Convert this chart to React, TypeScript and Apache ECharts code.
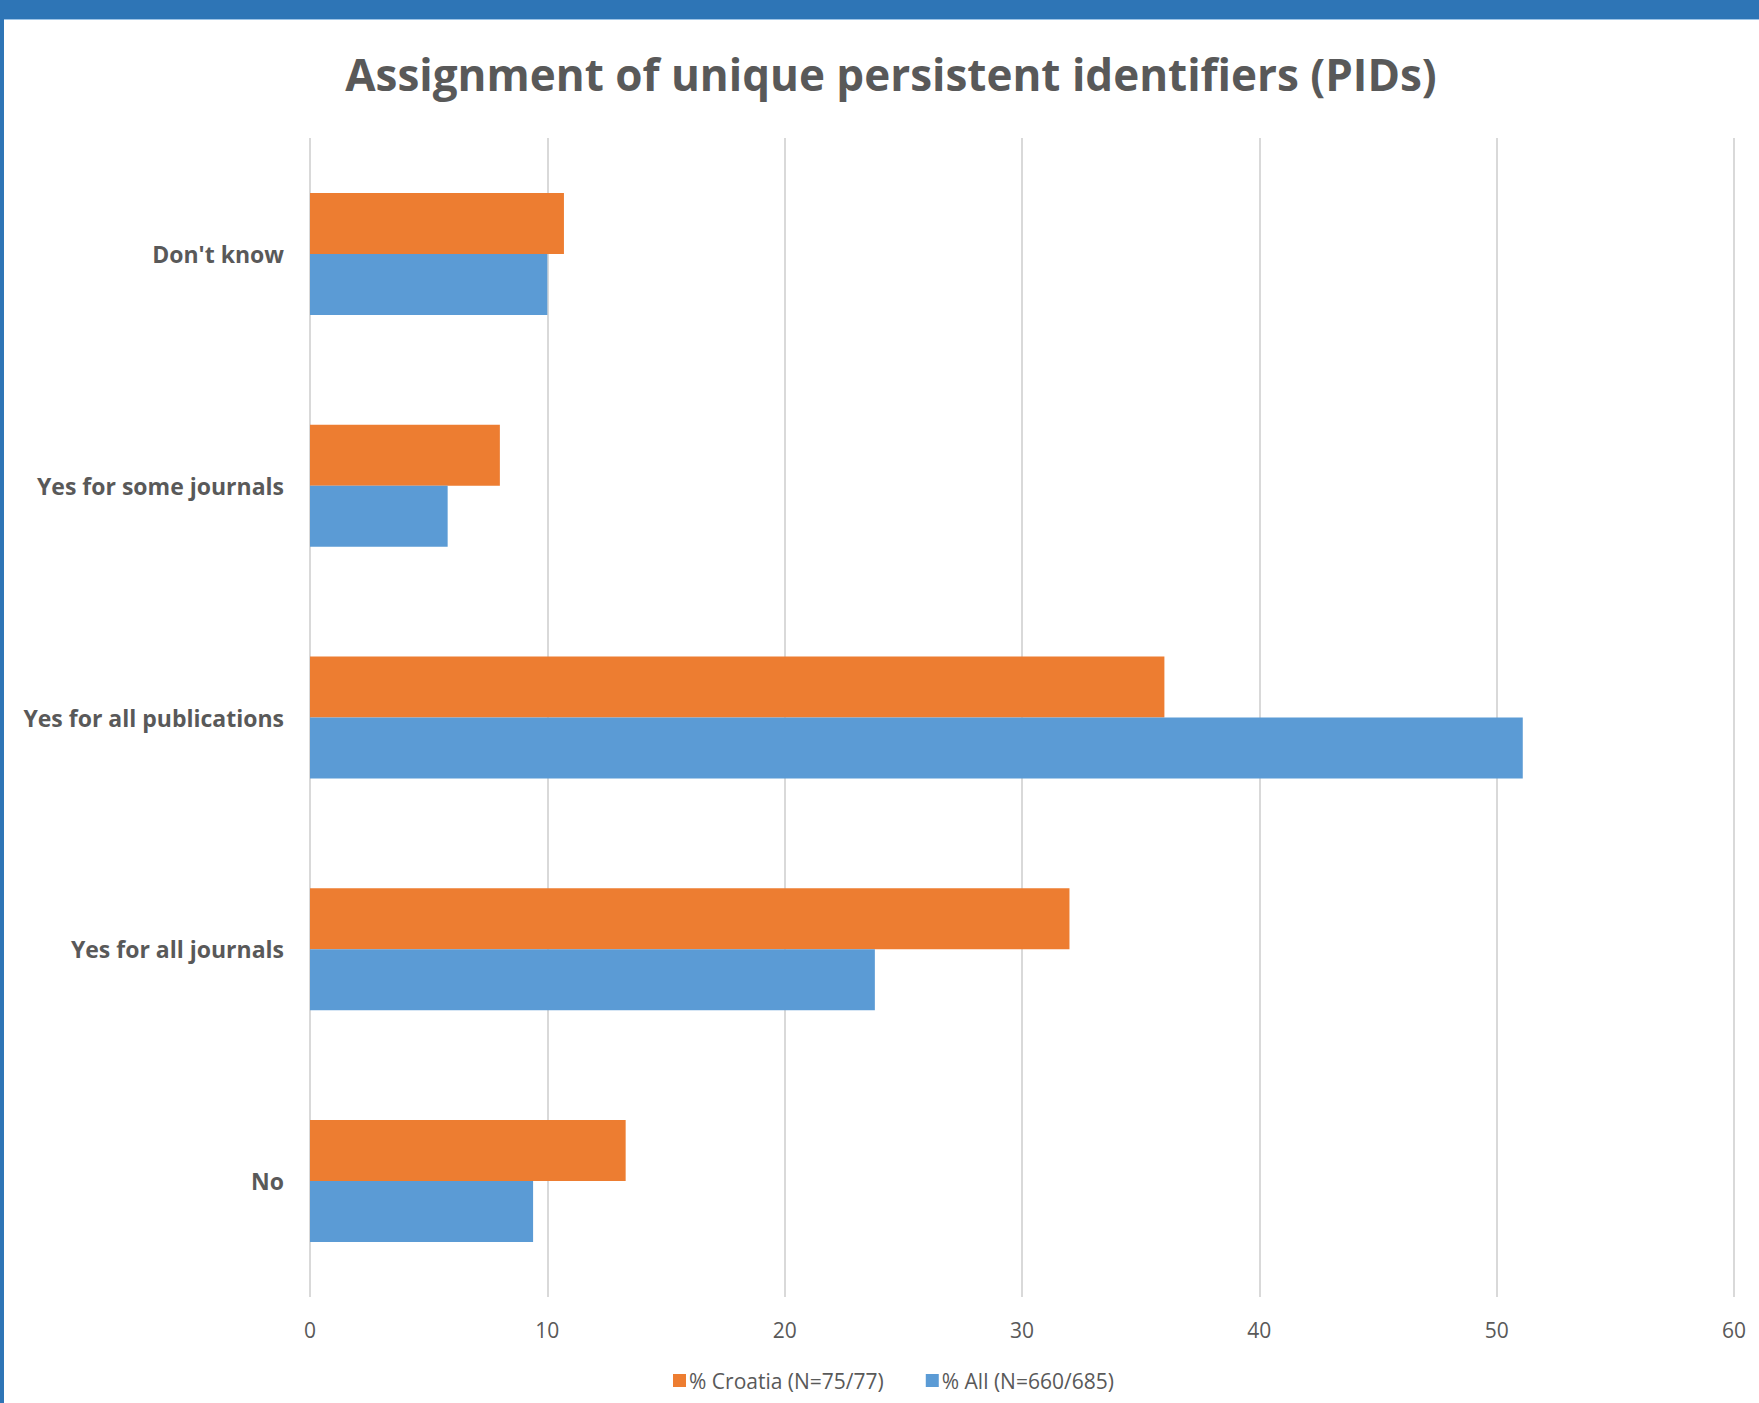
import React, { useEffect, useRef } from "react";
import * as echarts from "echarts";

const categories = ["No", "Yes for all journals", "Yes for all publications", "Yes for some journals", "Don't know"];
const croatiaValues = [13.3, 32.0, 36.0, 8.0, 10.7];
const allValues = [9.4, 23.8, 51.1, 5.8, 10.0];
const seriesNames = ["% Croatia (N=75/77)", "% All (N=660/685)"];
const xTicks = [0, 10, 20, 30, 40, 50, 60];

export default function App() {
  const ref = useRef<HTMLDivElement>(null);
  useEffect(() => {
    document.body.style.margin = "0";
    const chart = echarts.init(ref.current!, undefined, { renderer: "svg" });
    chart.setOption({
      animation: false,
      backgroundColor: "#ffffff",
      textStyle: { fontFamily: "Open Sans" },
      title: {
        text: "Assignment of unique persistent identifiers (PIDs)",
        left: 886,
        textAlign: "center",
        top: 47,
        textStyle: { fontFamily: "Open Sans", fontWeight: "bold", fontSize: 44, color: "#595959" },
      },
      graphic: [
        { type: "rect", shape: { x: 0, y: 0, width: 1759, height: 19 }, style: { fill: "#2E75B6" }, z: 100 },
        { type: "rect", shape: { x: 0, y: 19, width: 1759, height: 1 }, style: { fill: "#9DC3E6" }, z: 100 },
        { type: "rect", shape: { x: 0, y: 0, width: 4, height: 1403 }, style: { fill: "#2E75B6" }, z: 101 },
      ],
      legend: {
        data: seriesNames,
        bottom: 7,
        left: 668,
        itemWidth: 13,
        itemHeight: 13,
        itemGap: 42,
        icon: "rect",
        textStyle: { fontFamily: "Open Sans", fontSize: 21, color: "#595959", padding: [0, 0, 0, -2] },
      },
      grid: { left: 310, right: 25, top: 138, bottom: 106, containLabel: false },
      xAxis: {
        type: "value",
        min: xTicks[0],
        max: xTicks[xTicks.length - 1],
        interval: 10,
        axisLine: { show: false },
        axisTick: { show: false },
        splitLine: { show: true, lineStyle: { color: "#D9D9D9", width: 2 } },
        axisLabel: { fontFamily: "Open Sans", fontSize: 21, color: "#595959", margin: 22 },
      },
      yAxis: {
        type: "category",
        data: categories,
        axisLine: { show: false },
        axisTick: { show: false },
        axisLabel: { fontFamily: "Open Sans", fontWeight: "bold", fontSize: 23, color: "#595959", margin: 26 },
      },
      series: [
        {
          name: seriesNames[0],
          type: "bar",
          data: croatiaValues,
          barWidth: 61,
          barGap: "0%",
          itemStyle: { color: "#ED7D31" },
        },
        {
          name: seriesNames[1],
          type: "bar",
          data: allValues,
          barWidth: 61,
          barGap: "0%",
          itemStyle: { color: "#5B9BD5" },
        },
      ],
    });
    return () => chart.dispose();
  }, []);
  return <div ref={ref} style={{ width: 1759, height: 1403 }} />;
}
